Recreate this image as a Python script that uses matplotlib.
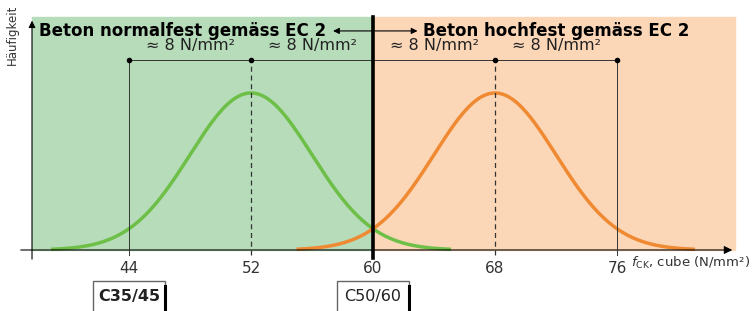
import numpy as np
import matplotlib.pyplot as plt
from matplotlib.patches import Rectangle

ticks = [44, 52, 60, 68, 76]
mean_normal, mean_high = 52, 68
sigma = 4
normal_range = (39.0, 65.0)
high_range = (55.1, 81.0)
dim_points = [44, 52, 68, 76]
spans = [(44, 52), (52, 60), (60, 68), (68, 76)]
span_label = "≈ 8 N/mm²"
boundary = 60
classes = ["C35/45", "C50/60"]
class_pos = [44, 60]
class_weight = ["bold", "normal"]

green = "#6dbf47"
orange = "#ef8a32"
green_bg = "#b6dcba"
orange_bg = "#fbd6b7"

fig = plt.figure(figsize=(7.55, 3.11), dpi=100)
ax = fig.add_axes([0, 0, 1, 1])
ax.set_xlim(35.541, 85.049)
ax.set_ylim(-0.3885, 1.592)
ax.axis("off")

top = 1.484
x0 = 37.64
x_end = 83.74
ax.add_patch(Rectangle((x0, 0), boundary - x0, top, color=green_bg, zorder=0))
ax.add_patch(Rectangle((boundary, 0), x_end - boundary, top, color=orange_bg, zorder=0))

# curves
xn = np.linspace(*normal_range, 300)
xh = np.linspace(*high_range, 300)
ax.plot(xn, np.exp(-(xn - mean_normal) ** 2 / (2 * sigma ** 2)), color=green, lw=2.5, zorder=3)
ax.plot(xh, np.exp(-(xh - mean_high) ** 2 / (2 * sigma ** 2)), color=orange, lw=2.5, zorder=3)

# axes
ax.annotate("", xy=(x_end, 0), xytext=(36.72, 0),
            arrowprops=dict(arrowstyle="-|>", color="black", lw=0.8, mutation_scale=12), zorder=4)
ax.annotate("", xy=(x0, 1.478), xytext=(x0, -0.076),
            arrowprops=dict(arrowstyle="-|>", color="black", lw=0.8, mutation_scale=10), zorder=4)

dim_y = 1.21
for t in ticks:
    if t == boundary:
        ax.plot([t, t], [-0.05, top], color="black", lw=2.6, zorder=5)
    elif t in (mean_normal, mean_high):
        ax.plot([t, t], [-0.03, dim_y], color="#333333", lw=0.9, ls=(0, (4, 3)), zorder=4)
    else:
        ax.plot([t, t], [-0.03, dim_y], color="#333333", lw=0.7, zorder=4)
    ax.text(t, -0.115, str(t), ha="center", va="center", fontsize=11, color="#333333")

ax.plot([dim_points[0], dim_points[-1]], [dim_y, dim_y], color="#333333", lw=0.7, zorder=4)
ax.plot(dim_points, [dim_y] * len(dim_points), "o", color="black", ms=3, zorder=5)
for a, b in spans:
    ax.text((a + b) / 2, 1.30, span_label, ha="center", va="center", fontsize=11.5, color="#222222")

# titles
ty = 1.395
ax.annotate("", xy=(57.2, ty), xytext=(63.1, ty),
            arrowprops=dict(arrowstyle="<|-|>", color="black", lw=0.8, mutation_scale=9), zorder=6)
ax.text(56.9, ty, "Beton normalfest gemäss EC 2", ha="right", va="center",
        fontsize=12, fontweight="bold")
ax.text(63.3, ty, "Beton hochfest gemäss EC 2", ha="left", va="center",
        fontsize=12, fontweight="bold")

ax.text(36.35, 1.37, "Häufigkeit", rotation=90, ha="center", va="center", fontsize=8.5, color="#333333")
ax.text(76.9, -0.085, r"$f_{\mathrm{CK}}$, cube (N/mm²)", ha="left", va="center",
        fontsize=9.5, color="#333333")

# class boxes
for name, pos, w in zip(classes, class_pos, class_weight):
    width = 4.7
    ax.add_patch(Rectangle((pos - width / 2, -0.5), width, 0.5 - 0.2, facecolor="white",
                           edgecolor="#666666", lw=1.0, zorder=6))
    ax.plot([pos + width / 2, pos + width / 2], [-0.5, -0.23], color="black", lw=2.2, zorder=7)
    ax.text(pos, -0.295, name, ha="center", va="center", fontsize=11.5, fontweight=w,
            color="#222222", zorder=8)

plt.savefig("out.png", dpi=100)
